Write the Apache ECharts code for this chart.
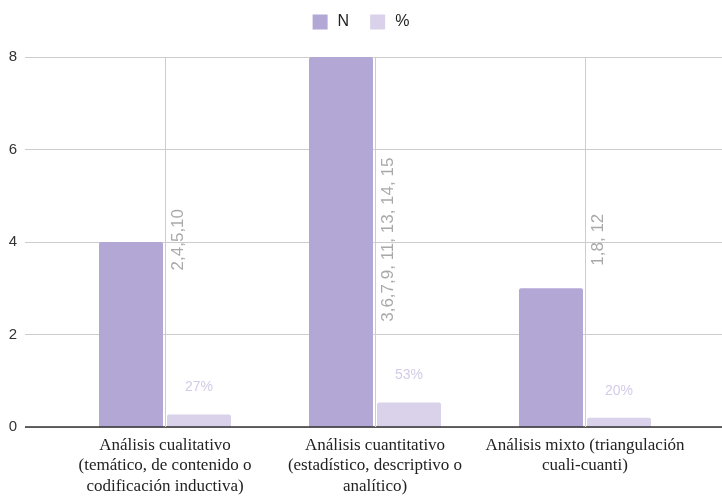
<!DOCTYPE html>
<html>
<head>
<meta charset="utf-8">
<script src="https://cdn.jsdelivr.net/npm/echarts@6/dist/echarts.min.js"></script>
<style>
html,body{margin:0;padding:0;background:#fff;}
#c{width:722px;height:499px;}
</style>
</head>
<body>
<div id="c"></div>
<script>
const categories = [
  'Análisis cualitativo\n(temático, de contenido o\ncodificación inductiva)',
  'Análisis cuantitativo\n(estadístico, descriptivo o\nanalítico)',
  'Análisis mixto (triangulación\ncuali-cuanti)'
];
const valuesN = [4, 8, 3];
const valuesPct = [0.27, 0.53, 0.20];
const studyLabels = ['2,4,5,10', '3,6,7,9, 11, 13, 14, 15', '1,8, 12'];
const annotationLevel = [4.05, 4.05, 4.05];
const yTicks = { min: 0, max: 8, interval: 2 };

const colN = '#b3a7d6';
const colP = '#d9d2ea';
const sans = "'Liberation Sans', Arial, sans-serif";
const serif = "'Liberation Serif', 'DejaVu Serif', serif";

const chart = echarts.init(document.getElementById('c'), null, { renderer: 'canvas' });
chart.setOption({
  animation: false,
  backgroundColor: '#fff',
  textStyle: { fontFamily: sans },
  legend: {
    top: 9,
    left: 'center',
    icon: 'rect',
    itemWidth: 15,
    itemHeight: 15,
    itemGap: 21,
    textStyle: { fontFamily: sans, fontSize: 16, color: '#222', padding: [0, 0, 0, 5] },
    data: ['N', '%']
  },
  grid: [
    { left: 25, right: 0, top: 57, bottom: 72, containLabel: false },
    { left: 60, right: 32, top: 57, bottom: 72, containLabel: false }
  ],
  xAxis: [
    { gridIndex: 0, type: 'value', min: 0, max: 1, show: true,
      axisLine: { show: false }, axisTick: { show: false }, axisLabel: { show: false }, splitLine: { show: false } },
    { gridIndex: 1, type: 'category', data: categories,
      axisLine: { show: false }, axisTick: { show: false },
      axisLabel: {
        interval: 0, margin: 8, align: 'center',
        formatter: v => v.split('\n').map(l => '{s|' + l + '}').join('\n'),
        rich: { s: { fontFamily: serif, fontSize: 17, lineHeight: 20.5, color: '#222', align: 'center' } }
      },
      splitLine: { show: false } }
  ],
  yAxis: [
    { gridIndex: 0, type: 'value', min: yTicks.min, max: yTicks.max, interval: yTicks.interval,
      axisLine: { show: false }, axisTick: { show: false },
      axisLabel: { margin: 8, fontFamily: sans, fontSize: 15, color: '#333' },
      splitLine: { lineStyle: { color: '#cccccc', width: 1 } } },
    { gridIndex: 1, type: 'value', min: yTicks.min, max: yTicks.max, interval: yTicks.interval, show: false }
  ],
  series: [
    {
      name: 'axisline', type: 'line', xAxisIndex: 0, yAxisIndex: 0, silent: true,
      data: [], markLine: {
        silent: true, symbol: 'none', label: { show: false },
        lineStyle: { color: '#333', width: 1.5, type: 'solid' },
        data: [{ yAxis: 0 }]
      }, z: 5
    },
    {
      name: 'vgrid', type: 'line', xAxisIndex: 1, yAxisIndex: 1, silent: true,
      data: [], z: 0,
      markLine: {
        silent: true, symbol: 'none', label: { show: false },
        lineStyle: { color: '#cccccc', width: 1, type: 'solid' },
        data: categories.map(c => ({ xAxis: c }))
      }
    },
    {
      name: 'N', type: 'bar', xAxisIndex: 1, yAxisIndex: 1,
      data: valuesN, barWidth: 64, barGap: '6.25%',
      itemStyle: { color: colN, borderRadius: [2, 2, 0, 0] },
      z: 3
    },
    {
      name: '%', type: 'bar', xAxisIndex: 1, yAxisIndex: 1,
      data: valuesPct, barWidth: 64,
      itemStyle: { color: colP, borderRadius: [2, 2, 0, 0] },
      label: {
        show: true, position: 'top', distance: 20,
        formatter: p => Math.round(p.value * 100) + '%',
        fontFamily: sans, fontSize: 14, color: '#d3cbe7'
      },
      z: 3
    },
    {
      name: 'studies', type: 'scatter', xAxisIndex: 1, yAxisIndex: 1,
      data: annotationLevel, symbolSize: 0, silent: true,
      label: {
        show: true, position: 'inside', rotate: 90, offset: [0, 13],
        formatter: p => studyLabels[p.dataIndex],
        fontFamily: sans, fontSize: 17, color: '#939393'
      },
      z: 4
    }
  ]
});
</script>
</body>
</html>
